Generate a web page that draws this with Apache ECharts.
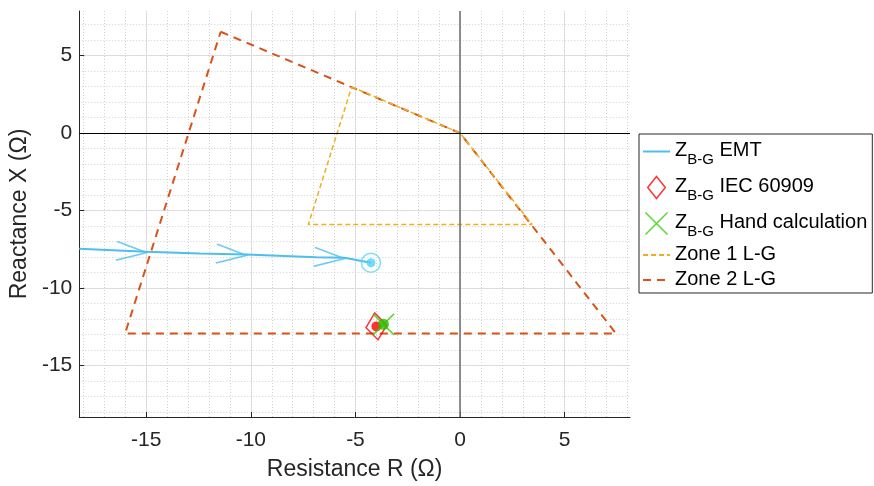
<!DOCTYPE html>
<html><head><meta charset="utf-8">
<script src="https://cdn.jsdelivr.net/npm/echarts@6/dist/echarts.min.js"></script>
<style>html,body{margin:0;padding:0;background:#fff}#c{width:874px;height:486px}</style>
</head><body><div id="c"></div>
<script>
// ---- data ----
const emtR = [-18.2, -14.99, -12.45, -10.21, -6.88, -5.53, -4.26];
const emtX = [-7.47, -7.66, -7.77, -7.84, -8.01, -8.05, -8.37];
const arrowIdx = [1, 3, 5];
const iecR = [-4.0];
const iecX = [-12.48];
const handR = [-3.66];
const handX = [-12.35];
const zone1R = [-5.18, 0, 3.44, -7.25, -5.18];
const zone1X = [2.98, 0, -5.9, -5.9, 2.98];
const zone2R = [-11.44, 0, 7.45, -16.01, -11.44];
const zone2X = [6.54, 0, -12.94, -12.94, 6.54];
const xTicks = [-15, -10, -5, 0, 5];
const yTicks = [-15, -10, -5, 0, 5];
const xMin = -18.2, xMax = 8.12, yMin = -18.33, yMax = 7.88;

const xMinor = []; for (let v = Math.ceil(xMin); v <= Math.floor(xMax); v++) xMinor.push(v);
const yMinor = []; for (let v = Math.ceil(yMin); v <= Math.floor(yMax); v++) yMinor.push(v);

const FONT = 'Liberation Sans, Arial, Helvetica, sans-serif';
const zip = (a, b) => a.map((v, i) => [v, b[i]]);

const chart = echarts.init(document.getElementById('c'), null, {renderer: 'canvas'});

const majorX = {
  type: 'value', min: xMin, max: xMax, position: 'bottom',
  axisLine: {show: true, onZero: false, lineStyle: {color: '#262626', width: 1}},
  axisTick: {show: true, inside: true, length: 5, customValues: xTicks, lineStyle: {color: '#262626'}},
  axisLabel: {customValues: xTicks, fontSize: 21, color: '#262626', margin: 13, fontFamily: FONT},
  splitLine: {show: true, lineStyle: {color: '#e2e2e2', width: 1}},
  name: 'Resistance R (Ω)', nameLocation: 'middle', nameGap: 41,
  nameTextStyle: {fontSize: 23, color: '#262626', fontFamily: FONT}
};
const minorX = {
  type: 'value', min: xMin, max: xMax, position: 'top',
  axisLine: {show: false}, axisTick: {show: false, customValues: xMinor},
  axisLabel: {show: false, customValues: xMinor},
  splitLine: {show: true, lineStyle: {color: '#d2d2d2', width: 1, type: [1, 2]}}
};
const majorY = {
  type: 'value', min: yMin, max: yMax, position: 'left',
  axisLine: {show: true, onZero: false, lineStyle: {color: '#262626', width: 1}},
  axisTick: {show: true, inside: true, length: 5, customValues: yTicks, lineStyle: {color: '#262626'}},
  axisLabel: {customValues: yTicks, fontSize: 21, color: '#262626', margin: 7, fontFamily: FONT},
  splitLine: {show: true, lineStyle: {color: '#e2e2e2', width: 1}},
  name: 'Reactance X (Ω)', nameLocation: 'middle', nameGap: 46,
  nameTextStyle: {fontSize: 23, color: '#262626', fontFamily: FONT}
};
const minorY = {
  type: 'value', min: yMin, max: yMax, position: 'right',
  axisLine: {show: false}, axisTick: {show: false, customValues: yMinor},
  axisLabel: {show: false, customValues: yMinor},
  splitLine: {show: true, lineStyle: {color: '#d2d2d2', width: 1, type: [1, 2]}}
};

const labels = {
  'EMT': '{z|Z}{s|B-G}{t| EMT}',
  'IEC': '{z|Z}{s|B-G}{t| IEC 60909}',
  'Hand': '{z|Z}{s|B-G}{t| Hand calculation}'
};

const diamondPath = 'path://M10,0L20,12.5L10,25L0,12.5Z';
const crossPath = 'path://M0,0L20,20M20,0L0,20';
const arrowPath = 'path://M0,0L30,9L0,18';
const hiddenSym = {color: 'rgba(0,0,0,0)', borderWidth: 0, opacity: 0};

chart.setOption({
  animation: false,
  backgroundColor: '#fff',
  grid: {left: 78, right: 244, top: 11, bottom: 68, containLabel: false},
  xAxis: [majorX, minorX],
  yAxis: [majorY, minorY],
  legend: {
    orient: 'vertical', left: 639, top: 134, align: 'left',
    padding: [2, 5, 4, 3], itemGap: 5, itemWidth: 27, itemHeight: 22,
    borderColor: '#262626', borderWidth: 1, backgroundColor: '#fff',
    selectedMode: false,
    formatter: name => labels[name] || ('{t|' + name + '}'),
    textStyle: {
      color: '#000', fontFamily: FONT, fontSize: 20,
      rich: {
        z: {fontSize: 20, lineHeight: 22, verticalAlign: 'top', fontFamily: FONT, color: '#000'},
        t: {fontSize: 20, lineHeight: 22, verticalAlign: 'top', fontFamily: FONT, color: '#000'},
        s: {fontSize: 15, lineHeight: 16, padding: [16, 0, 0, 0], fontFamily: FONT, color: '#000'}
      }
    },
    data: [
      {name: 'EMT', itemStyle: hiddenSym},
      {name: 'IEC', icon: diamondPath, symbolRotate: 0, itemStyle: {color: 'rgba(0,0,0,0)', borderColor: '#ff0000', borderWidth: 1.5}},
      {name: 'Hand', icon: crossPath, itemStyle: {color: 'rgba(0,0,0,0)', borderColor: '#33cc00', borderWidth: 1.5}},
      {name: 'Zone 1 L-G', itemStyle: hiddenSym},
      {name: 'Zone 2 L-G', itemStyle: hiddenSym}
    ]
  },
  series: [
    {
      name: 'Zone 2 L-G', type: 'line', xAxisIndex: 0, yAxisIndex: 0,
      data: zip(zone2R, zone2X), showSymbol: false, symbol: 'none',
      lineStyle: {color: '#D95319', width: 2, type: [8, 6]}, itemStyle: {color: '#D95319'},
      z: 3, silent: true,
      markLine: {
        silent: true, symbol: 'none', label: {show: false}, animation: false,
        data: [
          {xAxis: 0, lineStyle: {color: '#6b6b6b', width: 1.5, type: 'solid'}},
          {yAxis: 0, lineStyle: {color: '#000', width: 1, type: 'solid'}}
        ]
      }
    },
    {
      name: 'Zone 1 L-G', type: 'line', xAxisIndex: 0, yAxisIndex: 0,
      data: zip(zone1R, zone1X), showSymbol: false, symbol: 'none',
      lineStyle: {color: '#EDB120', width: 1.5, type: [5, 3]}, itemStyle: {color: '#EDB120'},
      z: 4, silent: true
    },
    {
      name: 'EMT', type: 'line', xAxisIndex: 0, yAxisIndex: 0,
      data: zip(emtR, emtX), showSymbol: false, symbol: 'none',
      lineStyle: {color: '#4DBEEE', width: 2}, itemStyle: {color: '#4DBEEE'},
      z: 5, silent: true
    },
    {
      name: 'EMT arrows', type: 'scatter', xAxisIndex: 0, yAxisIndex: 0,
      data: arrowIdx.map(i => [emtR[i], emtX[i]]),
      symbol: arrowPath, symbolSize: [30, 19], symbolOffset: [-15, 0], symbolRotate: -3.5,
      itemStyle: {color: 'rgba(0,0,0,0)', borderColor: '#4DBEEE', borderWidth: 2},
      z: 5, silent: true
    },
    {
      name: 'EMT end ring', type: 'scatter', xAxisIndex: 0, yAxisIndex: 0,
      data: [[emtR[emtR.length - 1], emtX[emtX.length - 1]]],
      symbol: 'circle', symbolSize: 19,
      itemStyle: {color: 'rgba(0,0,0,0)', borderColor: '#62d6f4', borderWidth: 1.5},
      z: 6, silent: true
    },
    {
      name: 'EMT end', type: 'scatter', xAxisIndex: 0, yAxisIndex: 0,
      data: [[emtR[emtR.length - 1], emtX[emtX.length - 1]]],
      symbol: 'circle', symbolSize: 9,
      itemStyle: {color: '#4fd3f5'}, z: 6, silent: true
    },
    {
      name: 'IEC', type: 'scatter', xAxisIndex: 0, yAxisIndex: 0,
      data: zip(iecR, iecX), symbol: diamondPath, symbolSize: [21, 27], symbolRotate: 7,
      itemStyle: {color: 'rgba(0,0,0,0)', borderColor: '#ff0000', borderWidth: 1.5},
      z: 7, silent: true
    },
    {
      name: 'IEC dot', type: 'scatter', xAxisIndex: 0, yAxisIndex: 0,
      data: zip(iecR, iecX), symbol: 'circle', symbolSize: 10,
      itemStyle: {color: '#ff0000'}, z: 7, silent: true
    },
    {
      name: 'Hand', type: 'scatter', xAxisIndex: 0, yAxisIndex: 0,
      data: zip(handR, handX), symbol: crossPath, symbolSize: 21,
      itemStyle: {color: 'rgba(0,0,0,0)', borderColor: '#33cc00', borderWidth: 1.5},
      z: 8, silent: true
    },
    {
      name: 'Hand dot', type: 'scatter', xAxisIndex: 0, yAxisIndex: 0,
      data: zip(handR, handX), symbol: 'circle', symbolSize: 11,
      itemStyle: {color: '#2bbf00'}, z: 8, silent: true
    }
  ]
});
</script></body></html>
